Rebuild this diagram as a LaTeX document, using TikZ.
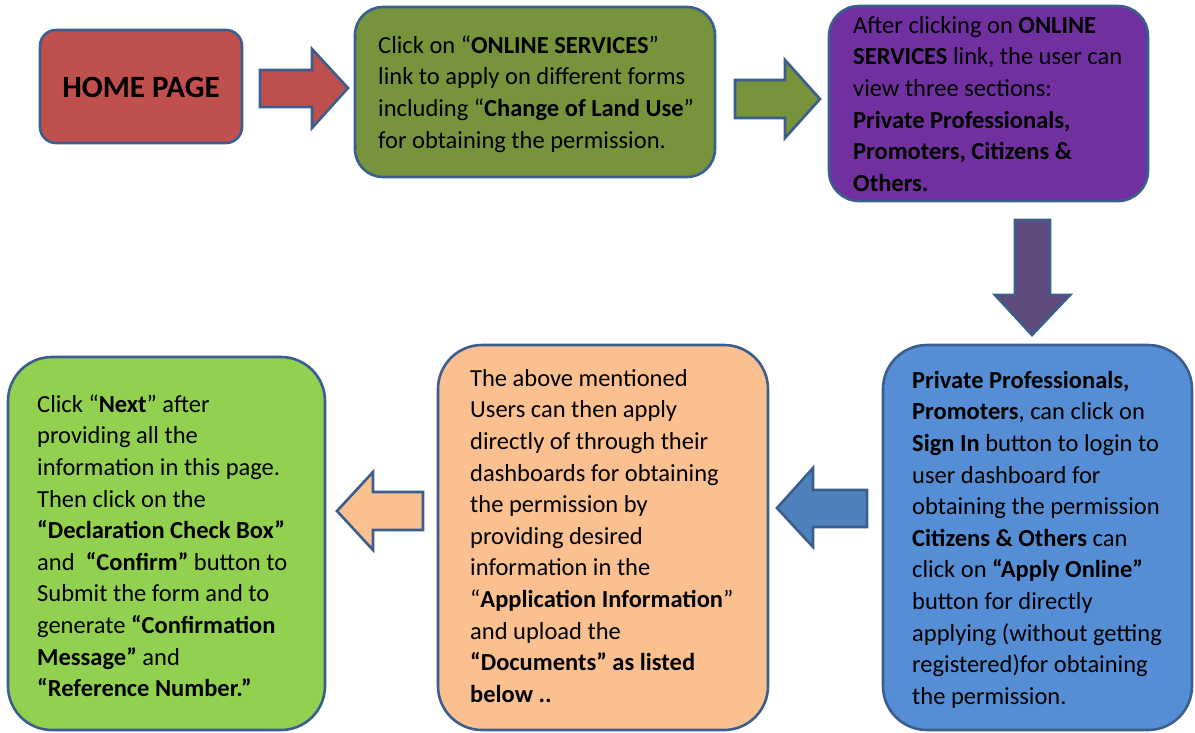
\documentclass[tikz,border=0pt]{standalone}
\usepackage{fontspec}
\setmainfont{Carlito}
\definecolor{bord}{HTML}{3A5F8E}
\definecolor{cred}{HTML}{C0504D}
\definecolor{colive}{HTML}{77933C}
\definecolor{cpurple}{HTML}{7030A0}
\definecolor{cdpurple}{HTML}{604A7B}
\definecolor{cblue}{HTML}{558ED5}
\definecolor{cblue2}{HTML}{4F81BD}
\definecolor{cpeach}{HTML}{FAC090}
\definecolor{cgreen}{HTML}{92D050}
\begin{document}
\begin{tikzpicture}[x=1pt,y=-1pt,
  boxst/.style={draw=bord, line width=2.6pt},
  arrst/.style={draw=bord, line width=2.6pt, line join=miter},
  txt/.style={anchor=north west, inner sep=0pt, align=left, font=\fontsize{24.5}{31.6}\selectfont},
]
\useasboundingbox (0,0) rectangle (1195,732);
% boxes
\draw[boxst, fill=cred, rounded corners=16pt] (40,30) rectangle (242,143);
\draw[boxst, fill=colive, rounded corners=28pt] (355,7) rectangle (715,177);
\draw[boxst, fill=cpurple, rounded corners=30pt] (829,6) rectangle (1148,201);
\draw[boxst, fill=cblue, rounded corners=44pt] (883,345) rectangle (1192,730);
\draw[boxst, fill=cpeach, rounded corners=44pt] (438,345) rectangle (768,730);
\draw[boxst, fill=cgreen, rounded corners=44pt] (8,357) rectangle (325,730);
% arrows
\draw[arrst, fill=cred] (260,70) -- (312,70) -- (312,49) -- (348,88) -- (312,128) -- (312,107) -- (260,107) -- cycle;
\draw[arrst, fill=colive] (735,80) -- (785,80) -- (785,60) -- (820,99) -- (785,138) -- (785,118) -- (735,118) -- cycle;
\draw[arrst, fill=cdpurple] (1015,220) -- (1050,220) -- (1050,295) -- (1070,295) -- (1032,335) -- (995,295) -- (1015,295) -- cycle;
\draw[arrst, fill=cblue2] (867,490) -- (813,490) -- (813,468) -- (777,508) -- (813,547) -- (813,527) -- (867,527) -- cycle;
\draw[arrst, fill=cpeach] (423,492) -- (373,492) -- (373,472) -- (337,511) -- (373,550) -- (373,530) -- (423,530) -- cycle;
% texts
\node[inner sep=0pt, font=\fontsize{31}{36}\selectfont\bfseries] (t1) at (141,87) {HOME PAGE};
\node[txt] (t2) at (378,31) {\strut Click on “\textbf{ONLINE SERVICES}”\\
link to apply on different forms\\
including “\textbf{Change of Land Use}”\\
for obtaining the permission.};
\node[txt] (t3) at (853,11) {\strut After clicking on \textbf{ONLINE}\\
\textbf{SERVICES} link, the user can\\
view three sections:\\
\textbf{Private Professionals,}\\
\textbf{Promoters, Citizens \&}\\
\textbf{Others.}};
\node[txt] (t4) at (912,366) {\strut\textbf{Private Professionals,}\\
\textbf{Promoters}, can click on\\
\textbf{Sign In} button to login to\\
user dashboard for\\
obtaining the permission\\
\textbf{Citizens \& Others} can\\
click on \textbf{“Apply Online”}\\
button for directly\\
applying (without getting\\
registered)for obtaining\\
the permission.};
\node[txt] (t5) at (470,364) {\strut The above mentioned\\
Users can then apply\\
directly of through their\\
dashboards for obtaining\\
the permission by\\
providing desired\\
information in the\\
“\textbf{Application Information}”\\
and upload the\\
\textbf{“Documents” as listed}\\
\textbf{below ..}};
\node[txt] (t6) at (37,390) {\strut Click “\textbf{Next}” after\\
providing all the\\
information in this page.\\
Then click on the\\
\textbf{“Declaration Check Box”}\\
and\ \ \textbf{“Confirm”} button to\\
Submit the form and to\\
generate \textbf{“Confirmation}\\
\textbf{Message”} and\\
\textbf{“Reference Number.”}};
\end{tikzpicture}
\end{document}
